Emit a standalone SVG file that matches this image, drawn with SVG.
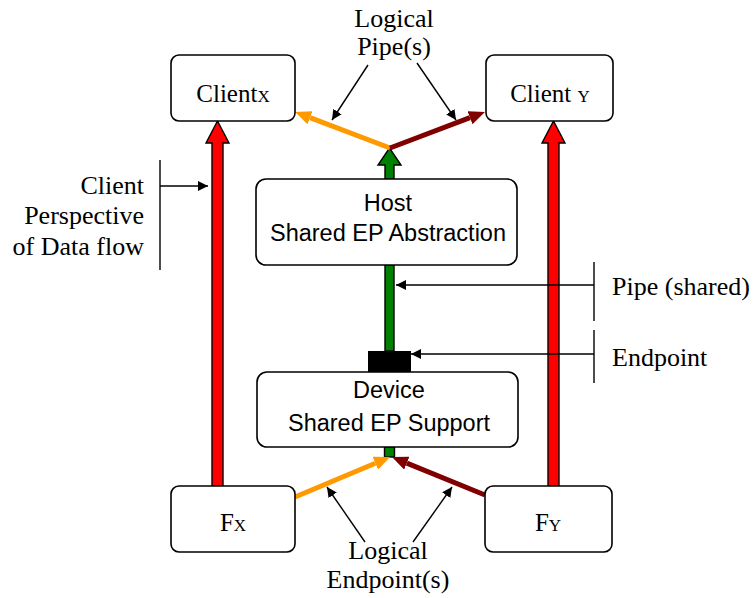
<svg xmlns="http://www.w3.org/2000/svg" width="754" height="598" viewBox="0 0 754 598">
<style>
.box{fill:#fff;stroke:#000;stroke-width:1.6}
.serif{font-family:"Liberation Serif","Times New Roman",serif;font-size:25px;fill:#000}
.lbl{font-size:26px}
.sans{font-family:"Liberation Sans",Arial,sans-serif;font-size:23.5px;fill:#000}
.sub{font-size:17px}
.thin{stroke:#000;stroke-width:1.4;fill:none}
.block{stroke:#000;stroke-width:1.4;stroke-linejoin:miter}
</style>
<defs>
<marker id="bk" viewBox="0 0 10 10" refX="10" refY="5" markerUnits="userSpaceOnUse" markerWidth="10" markerHeight="11" orient="auto"><path d="M0,0 L10,5 L0,10 z" fill="#000"/></marker>
<marker id="or" viewBox="0 0 16 14" refX="0" refY="7" markerUnits="userSpaceOnUse" markerWidth="16" markerHeight="14" orient="auto"><path d="M0,0 L16,7 L0,14 z" fill="#FF9900"/></marker>
<marker id="dr" viewBox="0 0 16 14" refX="0" refY="7" markerUnits="userSpaceOnUse" markerWidth="16" markerHeight="14" orient="auto"><path d="M0,0 L16,7 L0,14 z" fill="#800000"/></marker>
</defs>
<rect width="754" height="598" fill="#fff"/>

<g id="connectors">
  <polygon class="block" fill="#FF0000" points="212,486 212,143 206,143 217.5,121 229,143 223,143 223,486"/>
  <polygon class="block" fill="#FF0000" points="548,486 548,143 542,143 553.5,121 565,143 559,143 559,486"/>
  <polygon class="block" fill="#008000" points="385,179 385,165 378,165 389.5,148 401,165 394,165 394,179"/>
  <rect class="block" fill="#008000" x="385" y="265" width="9" height="86"/>
  <rect class="block" fill="#008000" x="384.5" y="447" width="10" height="10"/>
  <line x1="390" y1="148" x2="310" y2="117.7" stroke="#FF9900" stroke-width="5" marker-end="url(#or)"/>
  <line x1="390" y1="148" x2="470" y2="117.7" stroke="#800000" stroke-width="5" marker-end="url(#dr)"/>
  <line x1="295" y1="497" x2="375.3" y2="463.2" stroke="#FF9900" stroke-width="5" marker-end="url(#or)"/>
  <line x1="485" y1="495" x2="406.8" y2="463.1" stroke="#800000" stroke-width="5" marker-end="url(#dr)"/>
  <line class="thin" x1="368" y1="65" x2="332" y2="120" marker-end="url(#bk)"/>
  <line class="thin" x1="417" y1="63" x2="456" y2="120" marker-end="url(#bk)"/>
  <line class="thin" x1="365" y1="542" x2="327" y2="487" marker-end="url(#bk)"/>
  <line class="thin" x1="413" y1="542" x2="452" y2="487" marker-end="url(#bk)"/>
  <line class="thin" x1="160" y1="160" x2="160" y2="270"/>
  <line class="thin" x1="160" y1="186" x2="208" y2="186" marker-end="url(#bk)"/>
  <line class="thin" x1="594" y1="262" x2="594" y2="321"/>
  <line class="thin" x1="594" y1="285" x2="396" y2="285" marker-end="url(#bk)"/>
  <line class="thin" x1="594" y1="330" x2="594" y2="383"/>
  <line class="thin" x1="594" y1="354" x2="411" y2="354" marker-end="url(#bk)"/>
</g>

<g id="endpoint">
  <rect x="368" y="351" width="43" height="21" fill="#000"/>
</g>

<g id="clientX">
  <rect class="box" x="171" y="55" width="124" height="66" rx="8"/>
  <text class="serif" x="233" y="102" text-anchor="middle">Client<tspan class="sub">X</tspan></text>
</g>
<g id="clientY">
  <rect class="box" x="486" y="55" width="127" height="66" rx="8"/>
  <text class="serif" x="550" y="102" text-anchor="middle">Client <tspan class="sub">Y</tspan></text>
</g>
<g id="host">
  <rect class="box" x="256" y="179" width="261" height="86" rx="10"/>
  <text class="sans" x="388" y="211" text-anchor="middle">Host</text>
  <text class="sans" x="388" y="241" text-anchor="middle">Shared EP Abstraction</text>
</g>
<g id="device">
  <rect class="box" x="257" y="372" width="261" height="75" rx="10"/>
  <text class="sans" x="389" y="398" text-anchor="middle">Device</text>
  <text class="sans" x="389" y="431" text-anchor="middle">Shared EP Support</text>
</g>
<g id="fX">
  <rect class="box" x="171" y="486" width="124" height="66" rx="8"/>
  <text class="serif" x="233" y="531" text-anchor="middle">F<tspan class="sub">X</tspan></text>
</g>
<g id="fY">
  <rect class="box" x="485" y="486" width="127" height="66" rx="8"/>
  <text class="serif" x="548" y="531" text-anchor="middle">F<tspan class="sub">Y</tspan></text>
</g>

<g id="labels">
  <text class="serif lbl" x="394" y="27" text-anchor="middle">Logical</text>
  <text class="serif lbl" x="394" y="55" text-anchor="middle">Pipe(s)</text>
  <text class="serif lbl" x="144" y="194" text-anchor="end">Client</text>
  <text class="serif lbl" x="144" y="224" text-anchor="end">Perspective</text>
  <text class="serif lbl" x="144" y="255" text-anchor="end">of Data flow</text>
  <text class="serif lbl" x="612" y="295">Pipe (shared)</text>
  <text class="serif lbl" x="612" y="366">Endpoint</text>
  <text class="serif lbl" x="388" y="559" text-anchor="middle">Logical</text>
  <text class="serif lbl" x="388" y="588" text-anchor="middle">Endpoint(s)</text>
</g>
</svg>
